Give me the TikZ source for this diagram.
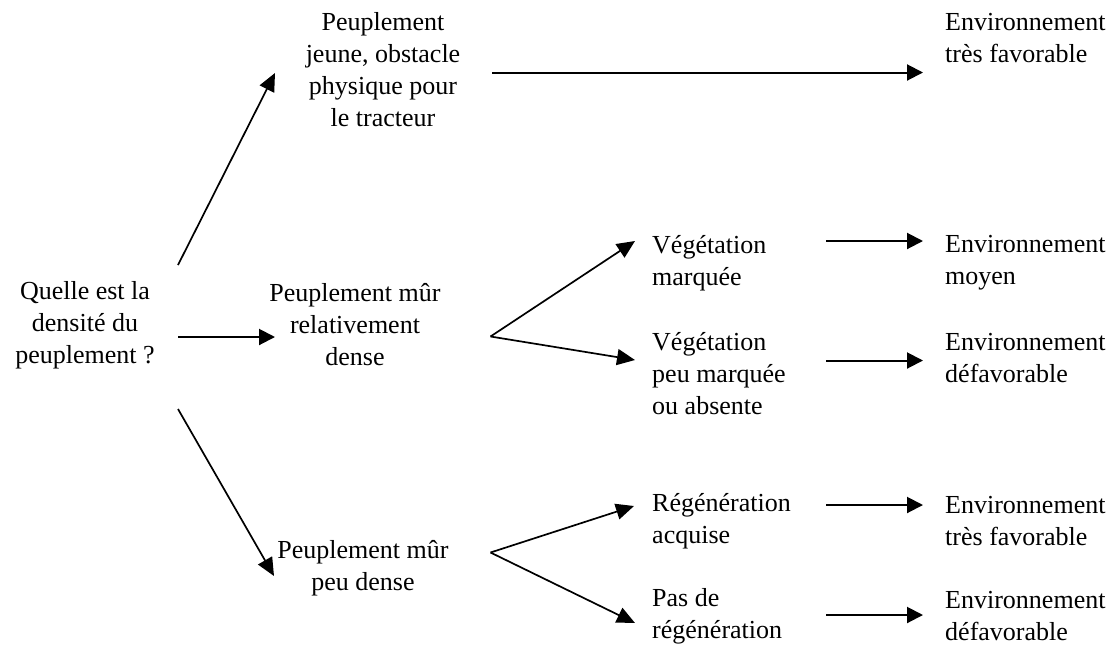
\documentclass[tikz,border=0pt]{standalone}
\usepackage{fontspec}
\setmainfont{Liberation Serif}
\usetikzlibrary{arrows.meta}
\begin{document}
\begin{tikzpicture}[x=1pt,y=-1pt,
  txt/.style={inner sep=0pt,font=\fontsize{26}{32}\selectfont},
  ctxt/.style={txt,align=center},
  ltxt/.style={txt,align=left,anchor=west},
  arr/.style={line width=2pt,-{Triangle[length=16pt,width=16pt]}},
  darr/.style={line width=1.7pt,-{Triangle[length=18pt,width=16pt]}}]
\useasboundingbox (0,0) rectangle (1110,646);
\fill[white] (0,0) rectangle (1110,646);
% nodes
\node[ctxt] (q) at (85,325) {Quelle est la\\densité du\\peuplement ?};
\node[ctxt] (p1) at (383,70) {Peuplement\\jeune, obstacle\\physique pour\\le tracteur};
\node[ctxt] (p2) at (355,325) {Peuplement mûr\\relativement\\dense};
\node[ctxt] (p3) at (363,568) {Peuplement mûr\\peu dense};
\node[ltxt] (v1) at (652,263) {Végétation\\marquée};
\node[ltxt] (v2) at (652,374) {Végétation\\peu marquée\\ou absente};
\node[ltxt] (r1) at (652,521) {Régénération\\acquise};
\node[ltxt] (r2) at (652,616) {Pas de\\régénération};
\node[ltxt] (e0) at (945,38) {Environnement\\très favorable};
\node[ltxt] (e1) at (945,263) {Environnement\\moyen};
\node[ltxt] (e2) at (945,358) {Environnement\\défavorable};
\node[ltxt] (e3) at (945,521) {Environnement\\très favorable};
\node[ltxt] (e4) at (945,616) {Environnement\\défavorable};
% connector end points
\coordinate (qa) at (178,265); \coordinate (p1a) at (275,73);
\coordinate (qb) at (178,337); \coordinate (p2b) at (275,337);
\coordinate (qc) at (178,409); \coordinate (p3c) at (274,576);
\coordinate (p1o) at (492,72.5); \coordinate (e0i) at (923,72.5);
\coordinate (f2) at (490.5,336.5); \coordinate (v1i) at (635,241); \coordinate (v2i) at (635,360);
\coordinate (f3) at (490.5,552.5); \coordinate (r1i) at (634,506); \coordinate (r2i) at (635,623);
\coordinate (v1o) at (826,241); \coordinate (e1i) at (923,241);
\coordinate (v2o) at (826,360.5); \coordinate (e2i) at (923,360.5);
\coordinate (r1o) at (826,505); \coordinate (e3i) at (923,505);
\coordinate (r2o) at (826,615); \coordinate (e4i) at (923,615);
% connectors
\draw[darr] (qa) -- (p1a);
\draw[arr] (qb) -- (p2b);
\draw[darr] (qc) -- (p3c);
\draw[arr] (p1o) -- (e0i);
\draw[darr] (f2) -- (v1i);
\draw[darr] (f2) -- (v2i);
\draw[darr] (f3) -- (r1i);
\draw[darr] (f3) -- (r2i);
\draw[arr] (v1o) -- (e1i);
\draw[arr] (v2o) -- (e2i);
\draw[arr] (r1o) -- (e3i);
\draw[arr] (r2o) -- (e4i);
\end{tikzpicture}
\end{document}
